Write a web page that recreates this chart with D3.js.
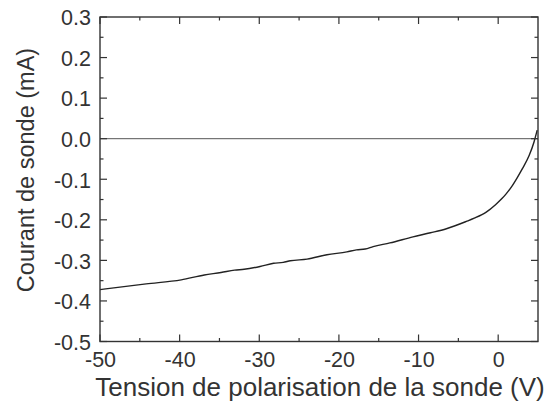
<!DOCTYPE html>
<html><head><meta charset="utf-8">
<script src="https://cdn.jsdelivr.net/npm/d3@7"></script>
<style>body{margin:0;background:#fff}svg{display:block}text{font-family:"Liberation Sans",Arial,sans-serif;fill:#333}</style>
</head><body>
<svg id="c" width="547" height="403"></svg>
<script>
const voltage = [-50,-44.2,-39.8,-36.9,-34.8,-33.1,-31.9,-29.9,-28.2,-27,-26.1,-24,-21.5,-19,-17.8,-16.7,-15.7,-13.6,-10.7,-8.5,-6.5,-4,-3,-1.5,-0.3,0.5,1.0,1.8,2.4,3.04,3.9,4.5,4.9];
const current = [-0.372,-0.358,-0.348,-0.336,-0.330,-0.324,-0.322,-0.315,-0.307,-0.305,-0.301,-0.297,-0.286,-0.279,-0.274,-0.272,-0.266,-0.257,-0.242,-0.232,-0.222,-0.204,-0.196,-0.181,-0.162,-0.147,-0.136,-0.115,-0.096,-0.074,-0.041,-0.008,0.021];
const xTicks = [-50,-40,-30,-20,-10,0];
const yTicks = [0.3,0.2,0.1,0.0,-0.1,-0.2,-0.3,-0.4,-0.5];
const xLabel = "Tension de polarisation de la sonde (V)";
const yLabel = "Courant de sonde (mA)";

const svg = d3.select("#c");
const L=100,R=538,T=17,B=341.5;
const x = d3.scaleLinear().domain([-50,5]).range([L,R]);
const y = d3.scaleLinear().domain([-0.5,0.3]).range([B,T]);
const col="#333";
const g = svg.append("g");

// zero line
g.append("line").attr("x1",L).attr("x2",R).attr("y1",y(0)).attr("y2",y(0)).attr("stroke","#555").attr("stroke-width",1);

// curve
const data = voltage.map((v,i)=>[v,current[i]]);
g.append("path").datum(data).attr("fill","none").attr("stroke","#222").attr("stroke-width",1.4)
 .attr("d",d3.line().x(d=>x(d[0])).y(d=>y(d[1])).curve(d3.curveMonotoneX));

// frame
g.append("rect").attr("x",L).attr("y",T).attr("width",R-L).attr("height",B-T).attr("fill","none").attr("stroke",col).attr("stroke-width",1.4);

const xMinor = d3.range(-45,5,10);
const yMinor = d3.range(-0.45,0.3,0.1);
function ticksX(vals,len){vals.forEach(v=>{
  g.append("line").attr("x1",x(v)).attr("x2",x(v)).attr("y1",B).attr("y2",B-len).attr("stroke",col).attr("stroke-width",1.2);
  g.append("line").attr("x1",x(v)).attr("x2",x(v)).attr("y1",T).attr("y2",T+len).attr("stroke",col).attr("stroke-width",1.2);
});}
function ticksY(vals,len){vals.forEach(v=>{
  g.append("line").attr("y1",y(v)).attr("y2",y(v)).attr("x1",L).attr("x2",L+len).attr("stroke",col).attr("stroke-width",1.2);
  g.append("line").attr("y1",y(v)).attr("y2",y(v)).attr("x1",R).attr("x2",R-len).attr("stroke",col).attr("stroke-width",1.2);
});}
ticksX(xTicks,7); ticksX(xMinor,3.5);
ticksY(yTicks,7); ticksY(yMinor,3.5);

const hy = s => s.replace("\u2212","-");
// labels
const xAxis = d3.axisBottom(x).tickValues(xTicks).tickSize(0).tickPadding(0).tickFormat(d=>hy(d3.format("d")(d)));
const xa = svg.append("g").attr("transform",`translate(0,${B})`).call(xAxis);
xa.select(".domain").remove();
xa.selectAll("text").attr("font-size",21.5).attr("dy",null).attr("y",25.5).attr("fill","#333").attr("font-family","Liberation Sans, Arial, sans-serif");

const yAxis = d3.axisLeft(y).tickValues(yTicks).tickSize(0).tickPadding(0).tickFormat(d=>hy(d3.format(".1f")(d)));
const ya = svg.append("g").attr("transform",`translate(${L},0)`).call(yAxis);
ya.select(".domain").remove();
ya.selectAll("text").attr("font-size",21.5).attr("x",-9).attr("dy","0.36em").attr("fill","#333").attr("font-family","Liberation Sans, Arial, sans-serif");

svg.append("text").attr("x",320).attr("y",396).attr("text-anchor","middle").attr("font-size",26).text(xLabel);
svg.append("text").attr("transform",`translate(34,170) rotate(-90)`).attr("text-anchor","middle").attr("font-size",23.5).text(yLabel);
</script>
</body></html>
